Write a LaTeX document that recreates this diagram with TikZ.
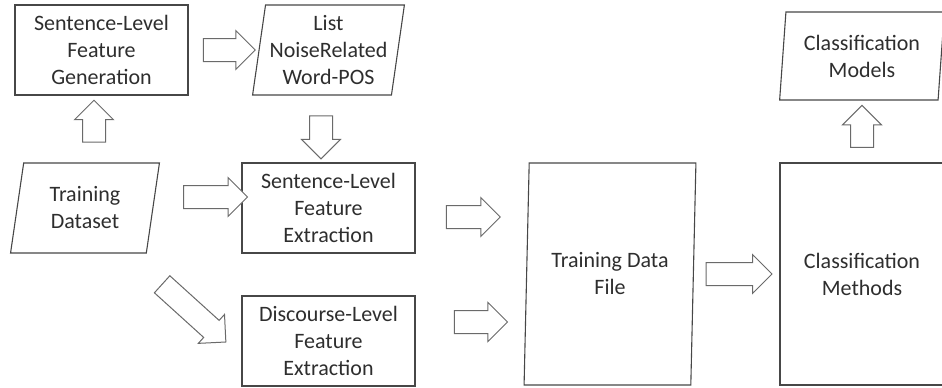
\documentclass[tikz,border=0pt]{standalone}
\usepackage{fontspec}
\setmainfont{Carlito}
\usetikzlibrary{shapes.geometric,shapes.arrows}
\definecolor{boxline}{HTML}{474747}
\definecolor{arrowline}{HTML}{6A6A6A}
\definecolor{boxtext}{HTML}{2E2E2E}
\newcommand{\boxfont}{\fontsize{22pt}{27pt}\selectfont}

\begin{document}
\begin{tikzpicture}[x=1pt,y=-1pt,node distance=150pt,
                    line join=miter]
  \tikzstyle{block}=[rectangle,draw=boxline,line width=1.1pt,
    text=boxtext,font=\boxfont,align=center,inner sep=4pt,
    minimum width=173pt,minimum height=90pt]
  \tikzstyle{io}=[trapezium,trapezium stretches=true,
    trapezium left angle=80.5,trapezium right angle=99.5,
    draw=boxline,line width=1.1pt,text=boxtext,font=\boxfont,
    align=center,inner sep=4pt,minimum width=150pt,minimum height=90pt]
  \tikzstyle{barrow}=[single arrow,draw=arrowline,fill=white,
    line width=1pt,inner xsep=0pt,inner ysep=11pt,
    single arrow head extend=8pt,sloped,allow upside down]

  \useasboundingbox (0,0) rectangle (942,388);

  \node[io] (Dataset) at (85,208)             {Training\\Dataset};
  \node[block] (SentExtr) [right of=Dataset,node distance=243.5pt]
                                              {Sentence-Level\\Feature\\Extraction};
  \node[block] (DiscExtr) [below of=SentExtr,node distance=133pt]
                                              {Discourse-Level\\Feature\\Extraction};
  \node[io] (NoiseList) [above of=SentExtr,node distance=158pt]
                                              {List\\NoiseRelated\\Word-POS};
  \node[block] (Generation) at (101.5,50)     {Sentence-Level\\Feature\\Generation};
  \node[io,trapezium left angle=85.5,trapezium right angle=94.5,
        minimum width=172pt,minimum height=222pt]
        (DataFile) at (610,274)               {Training Data\\File};
  \node[block,minimum width=164pt,minimum height=222pt]
        (Methods) [right of=DataFile,node distance=252pt]
                                              {Classification\\Methods};
  \node[io,trapezium left angle=84.2,trapezium right angle=95.8,
        minimum width=165pt,minimum height=88pt]
        (Models) [above of=Methods,node distance=218pt]
                                              {Classification\\Models};

  % block arrows between the boxes
  \path (Generation.east) -- node[barrow,minimum height=52pt] {} (NoiseList.west);
  \path ([xshift=9pt]Dataset.north) -- node[barrow,pos=.53,minimum height=42pt] {}
        ([xshift=-7.5pt]Generation.south);
  \path ([xshift=-7.5pt]NoiseList.south) -- node[barrow,pos=.54,minimum height=43pt] {}
        ([xshift=-7.5pt]SentExtr.north);
  \path ([yshift=11pt]Dataset.east) -- node[barrow,pos=.64,minimum height=64pt] {}
        ([yshift=11pt]SentExtr.west);
  \path ([shift={(73,27)}]Dataset.south) -- node[barrow,minimum height=86pt] {}
        ([shift={(-20,-3)}]DiscExtr.west);
  \path ([yshift=-9pt]SentExtr.east) -- node[barrow,pos=.47,minimum height=54pt] {}
        ([yshift=-9pt]SentExtr.east -| DataFile.west);
  \path ([yshift=19pt]DiscExtr.east) -- node[barrow,pos=.54,minimum height=53pt] {}
        ([yshift=19pt]DiscExtr.east -| DataFile.west);
  \path (DataFile.east) -- node[barrow,pos=.46,minimum height=66pt] {} (Methods.west);
  \path (Methods.north) -- node[barrow,pos=.49,minimum height=42pt] {} (Models.south);
\end{tikzpicture}
\end{document}
